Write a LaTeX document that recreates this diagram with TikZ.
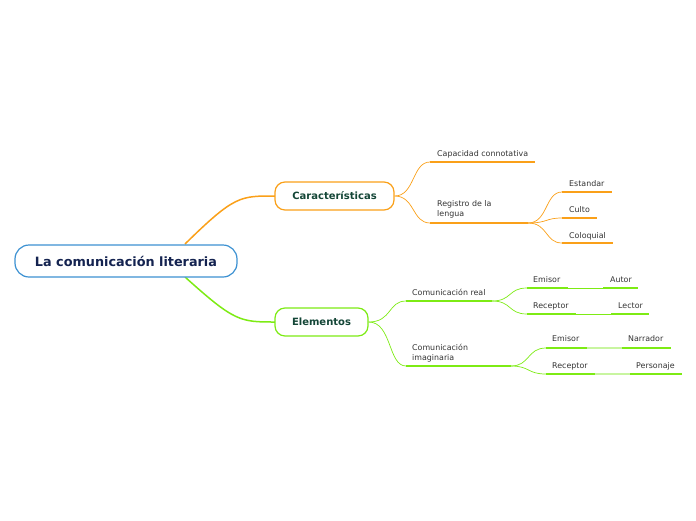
\documentclass[tikz,border=0pt]{standalone}
\usepackage{fontspec}
\setmainfont{DejaVu Sans}
\begin{document}
\begin{tikzpicture}[x=1pt,y=-1pt,
  txt/.style={text=black!80, font=\fontsize{7.9}{10.5}\selectfont, inner sep=0pt, anchor=base west, align=left},
  uline/.style={line width=2pt},
  thin/.style={line width=0.7pt},
  mainbox/.style={draw, rounded corners=10pt, line width=1.2pt, fill=white, font=\bfseries\fontsize{10}{12}\selectfont, text={rgb,255:red,20;green,70;blue,55}, inner sep=0pt}
]
\useasboundingbox (0,0) rectangle (696,520);
\definecolor{rootblue}{RGB}{60,145,210}
\definecolor{rootnavy}{RGB}{20,35,80}
\definecolor{oraC}{RGB}{250,160,25}
\definecolor{grnC}{RGB}{125,235,20}
\definecolor{grnL}{RGB}{200,245,160}

% root connectors
\draw[oraC, line width=1.5pt] (185,244) .. controls (235,195) and (240,196) .. (276,196);
\draw[grnC, line width=1.5pt] (185,277) .. controls (235,322) and (240,322) .. (276,322);

\node[draw=rootblue, rounded corners=14pt, line width=1.2pt, fill=white, minimum width=222pt, minimum height=32pt, text=rootnavy, font=\bfseries\fontsize{12.8}{14}\selectfont] (root) at (126,261) {La comunicación literaria};

\node[mainbox, draw=oraC, minimum width=119pt, minimum height=28pt] (car) at (334.5,196) {Características};
\node[mainbox, draw=grnC, minimum width=93pt, minimum height=28pt] (ele) at (321.5,322) {Elementos};

% Caracteristicas branch
\coordinate (cap1) at (430,162); \coordinate (cap2) at (535,162);
\coordinate (reg1) at (430,223); \coordinate (reg2) at (528,223);
\draw[oraC, thin] (car.east) .. controls (415,196) and (412,162) .. (cap1);
\draw[oraC, thin] (car.east) .. controls (415,196) and (412,223) .. (reg1);
\draw[oraC, uline] (cap1) -- (cap2);
\draw[oraC, uline] (reg1) -- (reg2);
\node[txt] (capT) at (437,156) {Capacidad connotativa};
\node[txt] (regT) at (437,216.5) {Registro de la\\lengua};

\coordinate (est1) at (562,192); \coordinate (est2) at (612,192);
\coordinate (cul1) at (562,218); \coordinate (cul2) at (597,218);
\coordinate (col1) at (562,243); \coordinate (col2) at (613,243);
\draw[oraC, thin] (reg2) .. controls (548,223) and (545,192) .. (est1);
\draw[oraC, thin] (reg2) .. controls (548,223) and (545,218) .. (cul1);
\draw[oraC, thin] (reg2) .. controls (548,223) and (545,243) .. (col1);
\draw[oraC, uline] (est1) -- (est2);
\draw[oraC, uline] (cul1) -- (cul2);
\draw[oraC, uline] (col1) -- (col2);
\node[txt] (estT) at (569,186) {Estandar};
\node[txt] (culT) at (569,212) {Culto};
\node[txt] (colT) at (569,238) {Coloquial};

% Elementos branch
\coordinate (cr1) at (406,301); \coordinate (cr2) at (492,301);
\coordinate (ci1) at (406,366); \coordinate (ci2) at (511,366);
\draw[grnC, thin] (ele.east) .. controls (392,322) and (388,301) .. (cr1);
\draw[grnC, thin] (ele.east) .. controls (392,322) and (388,366) .. (ci1);
\draw[grnC, uline] (cr1) -- (cr2);
\draw[grnC, uline] (ci1) -- (ci2);
\node[txt] (crT) at (412,295) {Comunicación real};
\node[txt] (ciT) at (412,360.5) {Comunicación\\imaginaria};

% Comunicacion real children
\coordinate (em1) at (527,288); \coordinate (em2) at (568,288);
\coordinate (au1) at (603,288); \coordinate (au2) at (638,288);
\coordinate (re1) at (527,314); \coordinate (re2) at (576,314);
\coordinate (le1) at (611,314); \coordinate (le2) at (649,314);
\draw[grnC, thin] (cr2) .. controls (512,301) and (508,288) .. (em1);
\draw[grnC, thin] (cr2) .. controls (512,301) and (508,314) .. (re1);
\draw[grnC, uline] (em1) -- (em2);
\draw[grnC, uline] (re1) -- (re2);
\draw[grnC, thin] (em2) -- (au1);
\draw[grnC, thin] (re2) -- (le1);
\draw[grnC, uline] (au1) -- (au2);
\draw[grnC, uline] (le1) -- (le2);
\node[txt] (emT) at (533,282) {Emisor};
\node[txt] (reT) at (533,308) {Receptor};
\node[txt] (auT) at (610,282) {Autor};
\node[txt] (leT) at (618,308) {Lector};

% Comunicacion imaginaria children
\coordinate (em3) at (546,348); \coordinate (em4) at (587,348);
\coordinate (na1) at (622,348); \coordinate (na2) at (671,348);
\coordinate (re3) at (546,374); \coordinate (re4) at (595,374);
\coordinate (pe1) at (630,374); \coordinate (pe2) at (682,374);
\draw[grnC, thin] (ci2) .. controls (530,366) and (527,348) .. (em3);
\draw[grnC, thin] (ci2) .. controls (530,366) and (527,374) .. (re3);
\draw[grnC, uline] (em3) -- (em4);
\draw[grnC, uline] (re3) -- (re4);
\draw[grnL, uline] (em4) -- (na1);
\draw[grnL, uline] (re4) -- (pe1);
\draw[grnC, uline] (na1) -- (na2);
\draw[grnC, uline] (pe1) -- (pe2);
\node[txt] (em3T) at (552,341.5) {Emisor};
\node[txt] (re3T) at (552,368) {Receptor};
\node[txt] (naT) at (628,341.5) {Narrador};
\node[txt] (peT) at (636,368) {Personaje};
\end{tikzpicture}
\end{document}
